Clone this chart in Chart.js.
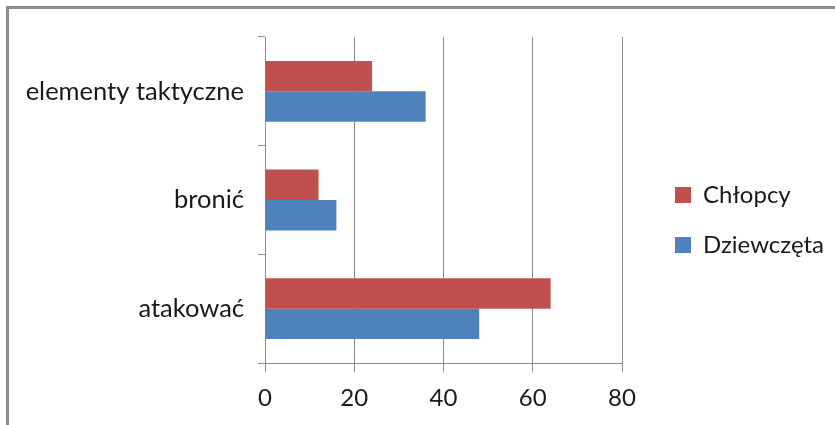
<!DOCTYPE html>
<html>
<head>
<meta charset="utf-8">
<script src="https://cdn.jsdelivr.net/npm/chart.js@4"></script>
<style>
  html, body { margin: 0; padding: 0; background: #fff; }
  #wrap { position: relative; width: 835px; height: 425px; overflow: hidden; }
  #frame { position: absolute; left: 6px; top: 6px; width: 900px; height: 500px;
           border: 3px solid #8c8c8c; pointer-events: none; }
  canvas { position: absolute; left: 0; top: 0; }
</style>
</head>
<body>
<div id="wrap">
  <canvas id="chart" width="835" height="425"></canvas>
  <div id="frame"></div>
</div>
<script>
// Categories, listed top to bottom
const categories = ['elementy taktyczne', 'bronić', 'atakować'];
// Percent values per group
const chlopcy = [24, 12, 64];
const dziewczeta = [36, 16, 48];
const seriesNames = ['Chłopcy', 'Dziewczęta'];
const xTicks = [0, 20, 40, 60, 80];

const FONT = { family: 'Lato', size: 24 };
const CAT_FONT = { family: 'Lato', size: 25.5 };
const TEXT = '#1a1a1a';
const GRID = '#8a8a8a';

// Plot frame: left edge of the value axis, bottom axis band
const AXIS_LEFT = 265;
const AXIS_BOTTOM_BAND = 62;

// Moves the legend to the right of the plot, outside the chart area
const legendPlacement = {
  id: 'legendPlacement',
  afterLayout(chart) {
    const lg = chart.legend;
    const w = lg.width, h = lg.height;
    lg.left = 649; lg.right = lg.left + w;
    lg.top = 157; lg.bottom = lg.top + h;
  }
};

new Chart(document.getElementById('chart'), {
  type: 'bar',
  data: {
    labels: categories,
    datasets: [
      { label: seriesNames[0], data: chlopcy, backgroundColor: '#C0504D',
        categoryPercentage: 0.56, barPercentage: 1.0 },
      { label: seriesNames[1], data: dziewczeta, backgroundColor: '#4F81BD',
        categoryPercentage: 0.56, barPercentage: 1.0 }
    ]
  },
  options: {
    indexAxis: 'y',
    responsive: false,
    animation: false,
    layout: { padding: { top: 37, left: 0, right: 213, bottom: 0 } },
    plugins: {
      legend: {
        position: 'chartArea',
        align: 'start',
        labels: { font: FONT, color: TEXT, boxWidth: 16, boxHeight: 16, padding: 26 }
      },
      tooltip: { enabled: false }
    },
    scales: {
      x: {
        min: 0, max: 80,
        afterBuildTicks(scale) { scale.ticks = xTicks.map(v => ({ value: v })); },
        afterFit(scale) { scale.height = AXIS_BOTTOM_BAND; },
        grid: { color: GRID, lineWidth: 1, tickLength: 9, drawTicks: true },
        border: { display: true, color: GRID, width: 1 },
        ticks: { font: FONT, color: TEXT, padding: 12 }
      },
      y: {
        afterFit(scale) { scale.width = AXIS_LEFT; },
        grid: { display: true, drawOnChartArea: false, color: GRID, tickLength: 7, offset: true },
        border: { display: true, color: GRID, width: 1 },
        ticks: { font: CAT_FONT, color: TEXT, padding: 14 }
      }
    }
  },
  plugins: [legendPlacement]
});
</script>
</body>
</html>
